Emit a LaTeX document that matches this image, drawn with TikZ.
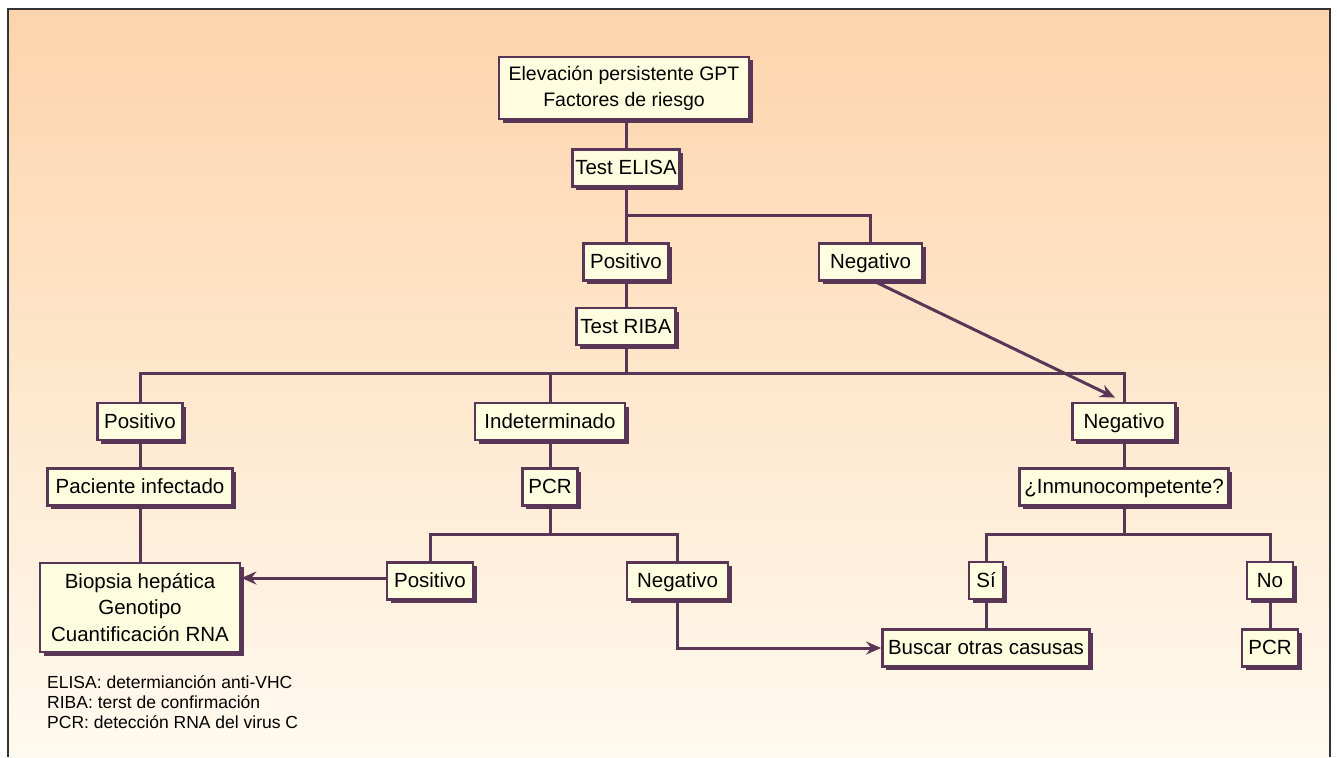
\documentclass[tikz,border=0pt]{standalone}
\usepackage{fontspec}
\setmainfont{Liberation Sans}
\usetikzlibrary{shadows,arrows.meta,calc}
\definecolor{plum}{HTML}{5A3656}
\definecolor{boxfill}{HTML}{FFFDE0}
\definecolor{bgtop}{HTML}{FDD4AB}
\definecolor{bgmid}{HTML}{FEE6CF}
\definecolor{bgbot}{HTML}{FFFAEF}
\begin{document}
\begin{tikzpicture}[x=1pt,y=-1pt,
  basebox/.style={draw=plum, line width=2.8pt, fill=boxfill, inner sep=0pt,
    font=\fontsize{20.5}{26.5}\selectfont,
    drop shadow={shadow xshift=3.5pt, shadow yshift=-3.5pt, fill=plum, opacity=1}},
  sbox/.style={basebox, minimum height=37pt, text height=14.8pt, text depth=1.5pt},
  mbox/.style={basebox, align=center},
  conn/.style={draw=plum, line width=3pt},
  arr/.style={conn, -{Stealth[length=15pt,width=13pt,inset=5pt]}},
  legend/.style={anchor=base west, inner sep=0pt, font=\fontsize{17.5}{19.5}\selectfont}
]
\useasboundingbox (0,0) rectangle (1337,757);
\fill[white] (0,0) rectangle (1337,757);
\shade[top color=bgtop, middle color=bgmid, bottom color=bgbot] (8,9) rectangle (1330,757);
\draw[line width=1.3pt, black!80] (8,757) -- (8,9) -- (1330,9) -- (1330,757);

% nodes
\node[mbox, minimum width=250pt, minimum height=62pt, font=\fontsize{19.5}{26}\selectfont] (top) at (624,88) {Elevación persistente GPT\\Factores de riesgo};
\node[sbox, minimum width=107pt] (elisa) at (626,168) {Test ELISA};
\node[sbox, minimum width=85pt] (posU) at (626,262) {Positivo};
\node[sbox, minimum width=103pt] (negU) at (870.5,262) {Negativo};
\node[sbox, minimum width=99pt] (riba) at (626,326.5) {Test RIBA};

\node[sbox, minimum width=85pt] (posL) at (140,421.5) {Positivo};
\node[sbox, minimum width=150pt] (indet) at (550,421.5) {Indeterminado};
\node[sbox, minimum width=103pt] (negR) at (1124,421.5) {Negativo};

\node[sbox, minimum width=185pt] (pac) at (140,487) {Paciente infectado};
\node[sbox, minimum width=55pt] (pcrM) at (550,487) {PCR};
\node[sbox, minimum width=209pt] (inmu) at (1124,487) {¿Inmunocompetente?};

\node[mbox, minimum width=200pt, minimum height=89pt] (bio) at (140,607.5) {Biopsia hepática\\Genotipo\\Cuantificación RNA};
\node[sbox, minimum width=86pt] (posM) at (430,581) {Positivo};
\node[sbox, minimum width=101pt] (negM) at (677.5,581) {Negativo};
\node[sbox, minimum width=34pt] (si) at (986,580.5) {Sí};
\node[sbox, minimum width=46pt] (no) at (1270,580.5) {No};

\node[sbox, minimum width=207pt] (busc) at (986,648) {Buscar otras casusas};
\node[sbox, minimum width=56pt] (pcrR) at (1270,648) {PCR};

% legend
\node[legend] (l1) at (47,688) {ELISA: determianción anti-VHC};
\node[legend] (l2) at (47,708) {RIBA: terst de confirmación};
\node[legend] (l3) at (47,728) {PCR: detección RNA del virus C};

% connectors
\draw[conn] (elisa.north) -- (elisa.north |- top.south);
\coordinate (j1) at (626,215);
\draw[conn] (elisa.south) -- (posU.north);
\draw[conn] (j1) -| (negU.north);
\draw[conn] (posU.south) -- (riba.north);
\coordinate (j2) at (626,373);
\draw[conn] (riba.south) -- (j2);
\draw[conn] (posL.north) |- (j2);
\draw[conn] (negR.north) |- (j2);
\draw[conn] (indet.north) -- (indet.north |- j2);
\draw[arr] ($(negU.south)+(5,0)$) -- ($(negR.north)+(-9,-4)$);

\draw[conn] (posL.south) -- (pac.north);
\draw[conn] (pac.south) -- (bio.north);

\draw[conn] (indet.south) -- (pcrM.north);
\coordinate (j3) at (550,534);
\draw[conn] (pcrM.south) -- (j3);
\draw[conn] (posM.north) |- (j3);
\draw[conn] (negM.north) |- (j3);
\draw[arr] ($(posM.west)+(0,-3)$) -- ($(posM.west -| bio.east)+(0,-3)$);
\draw[arr] (negM.south) |- (busc.west);

\draw[conn] (negR.south) -- (inmu.north);
\coordinate (j4) at (1124,534);
\draw[conn] (inmu.south) -- (j4);
\draw[conn] (si.north) |- (j4);
\draw[conn] (no.north) |- (j4);
\draw[conn] (si.south) -- (busc.north);
\draw[conn] (no.south) -- (pcrR.north);
\end{tikzpicture}
\end{document}
